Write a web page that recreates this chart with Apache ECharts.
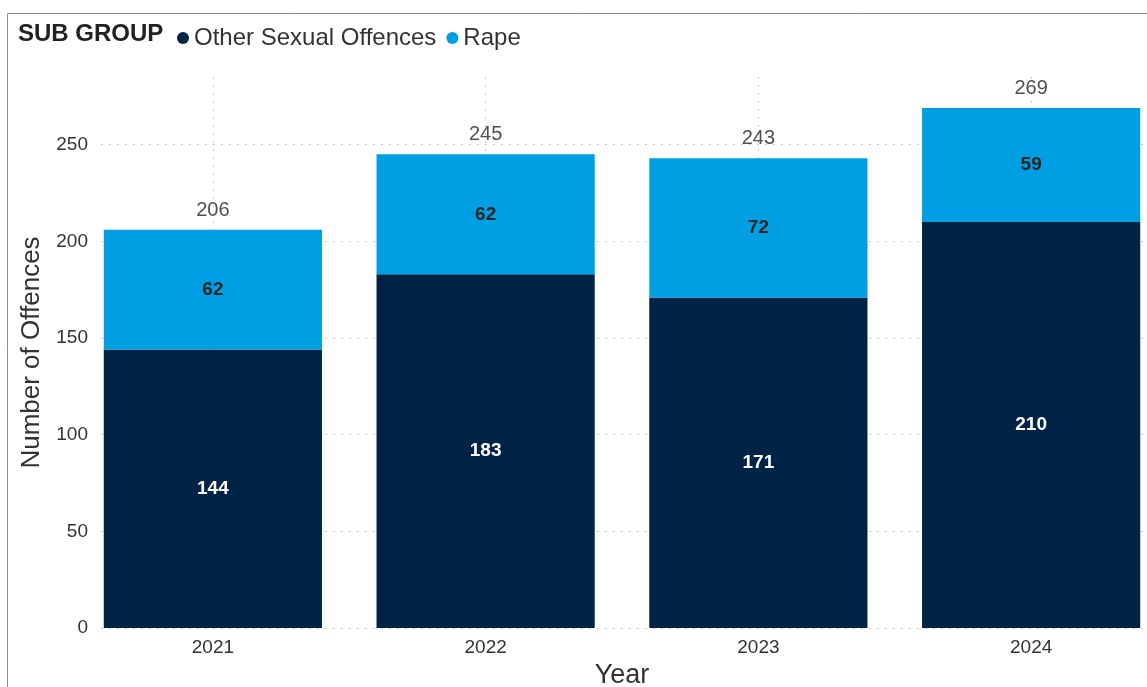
<!DOCTYPE html>
<html>
<head>
<meta charset="utf-8">
<script src="https://cdn.jsdelivr.net/npm/echarts@6/dist/echarts.min.js"></script>
<style>html,body{margin:0;padding:0;background:#fff}#c{width:1147px;height:687px}</style>
</head>
<body>
<div id="c"></div>
<script>
const categories = ['2021', '2022', '2023', '2024'];
const otherSexualOffences = [144, 183, 171, 210];
const rape = [62, 62, 72, 59];
const totals = categories.map((_, i) => otherSexualOffences[i] + rape[i]);
const yTicks = [0, 50, 100, 150, 200, 250];

const DARK = '#012345';
const LIGHT = '#009FE3';
const FONT = '"Liberation Sans", Arial, sans-serif';
const Y_MAX = 285;
const gridLineColor = '#c8c8c8';

const chart = echarts.init(document.getElementById('c'));
chart.setOption({
  animation: false,
  textStyle: { fontFamily: FONT },
  graphic: [
    { type: 'rect', shape: { x: 7.5, y: 13.5, width: 1160, height: 700 },
      style: { fill: 'none', stroke: '#8c8c8c', lineWidth: 1 }, silent: true },
    { type: 'text', left: 18, top: 22,
      style: { text: 'SUB GROUP', font: 'bold 24px ' + FONT, fill: '#222' } }
  ],
  legend: {
    left: 172, top: 21, icon: 'circle', itemWidth: 12, itemHeight: 12, itemGap: 10,
    textStyle: { fontSize: 24, color: '#333', fontFamily: FONT },
    data: ['Other Sexual Offences', 'Rape']
  },
  grid: [
    { left: 76.5, right: -20.5, top: 77, bottom: 59, outerBoundsMode: 'none', containLabel: false },
    { left: 101, right: 0, top: 77, bottom: 59, outerBoundsMode: 'none', containLabel: false }
  ],
  xAxis: [
    { type: 'category', gridIndex: 0, data: categories,
      axisLine: { show: false }, axisTick: { show: false },
      axisLabel: { fontSize: 19, color: '#333', margin: 10 },
      name: 'Year', nameLocation: 'middle', nameGap: 31,
      nameTextStyle: { fontSize: 27, color: '#333' } },
    { type: 'category', gridIndex: 0, boundaryGap: false,
      data: ['', '', '', '', '', '', '', '', ''], show: true,
      axisLine: { show: false }, axisTick: { show: false }, axisLabel: { show: false },
      splitLine: { show: true, interval: (i) => i % 2 === 1,
        lineStyle: { color: gridLineColor, type: [2, 6], width: 1 } } },
    { type: 'category', gridIndex: 1, data: categories, show: false }
  ],
  yAxis: [
    { type: 'value', gridIndex: 0, min: 0, max: Y_MAX, show: false, splitLine: { show: false } },
    { type: 'value', gridIndex: 1, min: 0, max: Y_MAX, interval: 50,
      axisLine: { show: false }, axisTick: { show: false },
      axisLabel: { fontSize: 19, color: '#333', margin: 13,
        formatter: (v) => (yTicks.indexOf(v) >= 0 ? String(v) : '') },
      splitLine: { show: true, lineStyle: {
        color: yTicks.map(() => gridLineColor).concat(['rgba(0,0,0,0)']),
        type: [2, 6], width: 1 } },
      name: 'Number of Offences', nameLocation: 'middle', nameGap: 56, nameRotate: 90,
      nameTextStyle: { fontSize: 26, color: '#333' } }
  ],
  series: [
    { name: 'Other Sexual Offences', type: 'bar', stack: 'total', xAxisIndex: 0, yAxisIndex: 0,
      data: otherSexualOffences, barCategoryGap: '20%', itemStyle: { color: DARK },
      label: { show: true, position: 'inside', color: '#fff', fontSize: 19, fontWeight: 'bold' } },
    { name: 'Rape', type: 'bar', stack: 'total', xAxisIndex: 0, yAxisIndex: 0,
      data: rape, barCategoryGap: '20%', itemStyle: { color: LIGHT },
      label: { show: true, position: 'inside', color: '#252423', fontSize: 19, fontWeight: 'bold' } },
    { name: 'Total', type: 'scatter', xAxisIndex: 0, yAxisIndex: 0, data: totals,
      symbolSize: 1, itemStyle: { color: 'rgba(0,0,0,0)' }, silent: true,
      label: { show: true, position: 'top', distance: 9, color: '#252423', fontSize: 20 } }
  ]
});
</script>
</body>
</html>
